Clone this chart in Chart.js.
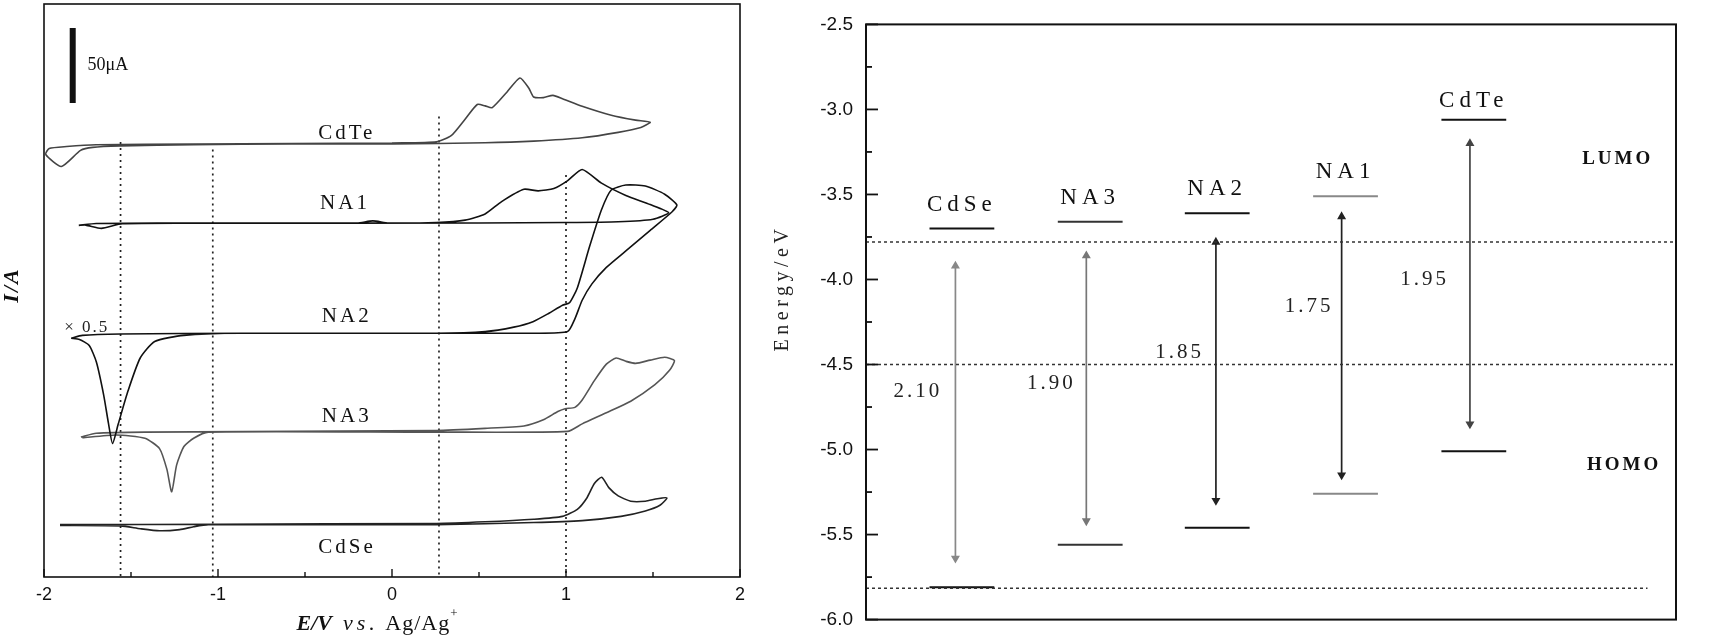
<!DOCTYPE html>
<html>
<head>
<meta charset="utf-8">
<script src="https://cdn.jsdelivr.net/npm/chart.js@4.4.1/dist/chart.umd.min.js"></script>
<style>
  html, body { margin: 0; padding: 0; background: #fff; }
  #wrap { position: relative; width: 1710px; height: 644px; }
  #cv { position: absolute; left: 0; top: 0; }
  #lv { position: absolute; left: 760px; top: 0; }
</style>
</head>
<body>
<div id="wrap">
  <canvas id="cv" width="760" height="644"></canvas>
  <canvas id="lv" width="950" height="644"></canvas>
</div>
<script>
// ---------- left panel: cyclic voltammograms ----------
// potential (V vs Ag/Ag+) and current (uA, relative to each trace's own baseline)
const cdteE = [0.00, 0.255, 0.34, 0.42, 0.49, 0.535, 0.576, 0.66, 0.735, 0.786, 0.814, 0.87, 0.925, 0.98, 1.093, 1.26, 1.40, 1.484, 1.43, 1.30, 1.093, 0.814, 0.535, 0.0, -0.58, -1.14, -1.56, -1.72, -1.79, -1.90, -1.99, -1.97, -1.87, -1.70, -1.14, -0.58, 0.0];
const cdteI = [0.6, 1.4, 5.5, 16.5, 26.3, 25.4, 24.2, 34.5, 44.0, 37.3, 31.3, 30.9, 32.4, 30.2, 25.2, 19.2, 15.9, 14.5, 11.0, 7.7, 4.1, 1.9, 0.8, 0.0, 0.0, -0.5, -1.4, -2.3, -4.3, -15.0, -7.0, -3.0, -1.7, -0.5, 0.0, 0.3, 0.6];

const na1E = [-1.80, -1.70, -1.0, -0.20, -0.11, -0.02, 0.255, 0.42, 0.535, 0.63, 0.758, 0.84, 0.93, 1.01, 1.093, 1.204, 1.344, 1.484, 1.59, 1.50, 1.30, 1.0, 0.5, -1.0, -1.55, -1.67, -1.76, -1.80];
const na1I = [-1.6, -0.3, 0, 0, 1.4, 0, 0.3, 1.9, 6.0, 14.3, 22.5, 21.4, 23.0, 28.3, 35.7, 26.6, 18.4, 12.3, 6.9, 2.5, 0.8, 0.3, 0, -0.2, -0.5, -3.6, -1.4, -1.6];

const na2E = [-1.844, -1.78, -1.56, -0.86, 0.255, 0.535, 0.70, 0.81, 0.90, 0.98, 1.02, 1.065, 1.135, 1.204, 1.26, 1.344, 1.456, 1.567, 1.637, 1.61, 1.484, 1.344, 1.232, 1.149, 1.093, 1.051, 1.009, 0.814, -0.86, -1.196, -1.364, -1.447, -1.517, -1.573, -1.606, -1.629, -1.657, -1.699, -1.74, -1.796, -1.844];
const na2I = [-3.3, -1.4, -0.5, 0, 0, 1.1, 4.1, 7.7, 13.2, 18.7, 20.3, 30.2, 57.6, 82.3, 95.5, 98.8, 98.2, 92.7, 85.6, 81.0, 68.6, 54.9, 43.9, 32.9, 22.0, 9.6, 1.1, 0, 0, -1.4, -5.5, -16.5, -38.4, -60.4, -73.5, -60.4, -41.2, -19.2, -8.2, -4.1, -3.3];

const na3E = [-1.788, -1.70, -1.42, 0.255, 0.535, 0.758, 0.87, 0.953, 0.995, 1.051, 1.093, 1.163, 1.232, 1.288, 1.344, 1.40, 1.484, 1.567, 1.623, 1.595, 1.511, 1.372, 1.232, 1.093, 1.009, 0.255, -1.056, -1.14, -1.196, -1.238, -1.266, -1.294, -1.336, -1.42, -1.587, -1.78];
const na3I = [-3.3, -0.8, 0, 1.1, 2.5, 4.1, 8.2, 13.7, 15.6, 16.5, 21.4, 34.3, 45.3, 49.4, 47.2, 45.8, 48.0, 49.9, 47.7, 41.2, 31.6, 20.6, 12.9, 5.5, 0.5, 0, 0, -4.1, -9.6, -22.0, -39.8, -24.7, -11.0, -4.1, -1.9, -3.8];

const cdseE = [-1.908, -1.0, 0.255, 0.535, 0.814, 0.98, 1.065, 1.12, 1.163, 1.205, 1.246, 1.30, 1.372, 1.456, 1.525, 1.58, 1.54, 1.456, 1.316, 1.093, 0.814, 0.255, -1.056, -1.14, -1.22, -1.336, -1.447, -1.56, -1.908];
const cdseI = [0, 0.3, 0.8, 1.9, 3.6, 5.5, 10.2, 17.8, 27.4, 31.6, 24.7, 19.2, 15.6, 15.6, 17.3, 17.8, 12.9, 9.1, 5.5, 2.7, 1.4, 0, 0, -1.4, -3.3, -4.1, -2.7, -0.8, -0.5];

// vertical stacking offsets of the traces (uA) and their labels
const traceNames = ['CdTe', 'NA1', 'NA2', 'NA3', 'CdSe'];
const traceOffsets = [288.7, 236.0, 162.5, 96.6, 34.9];
const traceColors = ['#444', '#111', '#111', '#555', '#222'];
const labelE = [-0.26, -0.27, -0.26, -0.26, -0.258];
const labelI = [295.5, 248.9, 173.4, 107.0, 19.8];

// dotted guide lines (V) and where they start (uA)
const guideE = [-1.56, -1.03, 0.27, 1.00];
const guideTop = [290, 285, 307, 268];

const xTicksCV = [-2, -1.5, -1, -0.5, 0, 0.5, 1, 1.5, 2];

// ---------- right panel: energy levels ----------
const materials = ['CdSe', 'NA3', 'NA2', 'NA1', 'CdTe'];
const levelX = [0.74, 1.73, 2.71, 3.70, 4.69];
const lumo = [-3.70, -3.66, -3.61, -3.51, -3.06];
const homo = [-5.81, -5.56, -5.46, -5.26, -5.01];
const levelColors = ['#111', '#333', '#111', '#888', '#111'];
const arrowX = [0.69, 1.70, 2.70, 3.67, 4.66];
const arrowTop = [-3.92, -3.86, -3.78, -3.63, -3.20];
const arrowBottom = [-5.64, -5.42, -5.30, -5.15, -4.85];
const arrowColors = ['#888', '#777', '#222', '#222', '#444'];
const gapText = ['2.10', '1.90', '1.85', '1.75', '1.95'];
const gapX = [0.40, 1.43, 2.42, 3.42, 4.31];
const gapY = [-4.66, -4.61, -4.43, -4.16, -4.00];
const nameY = [-3.56, -3.52, -3.47, -3.37, -2.95];
const refLevels = [-3.78, -4.50, -5.815];
const refEnd = [6.25, 6.25, 6.03];

const SERIF = '"Liberation Serif", "Times New Roman", serif';
const SANS = '"Liberation Sans", Arial, sans-serif';

function drawText(ctx, str, x, y, font, color, spacing, align) {
    ctx.save();
    ctx.font = font;
    ctx.fillStyle = color;
    ctx.textAlign = align || 'center';
    ctx.textBaseline = 'middle';
    ctx.letterSpacing = (spacing || 0) + 'px';
    ctx.fillText(str, x, y);
    ctx.restore();
}

// left panel datasets
const cvSeries = [[cdteE, cdteI], [na1E, na1I], [na2E, na2I], [na3E, na3I], [cdseE, cdseI]];
const cvDatasets = cvSeries.map((s, k) => ({
    data: s[0].map((e, i) => ({ x: e, y: traceOffsets[k] + s[1][i] })),
    showLine: true,
    borderColor: traceColors[k],
    borderWidth: 1.6,
    pointRadius: 0,
    tension: 0.2
}));
guideE.forEach((e, i) => {
    cvDatasets.push({
        data: [{ x: e, y: guideTop[i] }, { x: e, y: 0 }],
        showLine: true,
        borderColor: '#222',
        borderWidth: 1.7,
        borderDash: [2, 4],
        pointRadius: 0
    });
});

const cvPlugin = {
    id: 'cvDecor',
    afterDraw(chart) {
        const { ctx, chartArea: a } = chart;
        const xs = chart.scales.x, ys = chart.scales.y;
        ctx.save();
        // frame
        ctx.strokeStyle = '#111';
        ctx.lineWidth = 1.6;
        ctx.strokeRect(a.left, a.top, a.right - a.left, a.bottom - a.top);
        // inward ticks on bottom axis
        ctx.lineWidth = 1.4;
        xTicksCV.forEach(v => {
            const px = xs.getPixelForValue(v);
            const len = Number.isInteger(v) ? 8 : 5;
            ctx.beginPath();
            ctx.moveTo(px, a.bottom);
            ctx.lineTo(px, a.bottom - len);
            ctx.stroke();
        });
        // scale bar
        ctx.fillStyle = '#111';
        const bx = xs.getPixelForValue(-1.835);
        const by1 = ys.getPixelForValue(366), by2 = ys.getPixelForValue(316);
        ctx.fillRect(bx - 3, by1, 6, by2 - by1);
        ctx.restore();

        drawText(ctx, '50μA', xs.getPixelForValue(-1.75), ys.getPixelForValue(341), '18px ' + SERIF, '#111', 0, 'left');
        traceNames.forEach((n, i) => {
            drawText(ctx, n, xs.getPixelForValue(labelE[i]), ys.getPixelForValue(labelI[i]), '21px ' + SERIF, '#111', 3);
        });
        drawText(ctx, '× 0.5', xs.getPixelForValue(-1.754), ys.getPixelForValue(166.6), '17px ' + SERIF, '#222', 2);

        // y title
        ctx.save();
        ctx.translate(12, 285);
        ctx.rotate(-Math.PI / 2);
        drawText(ctx, 'I/A', 0, 0, 'italic bold 22px ' + SERIF, '#111', 2);
        ctx.restore();

        // x title, mixed styles
        const parts = [
            ['E/V', 'italic bold 22px ' + SERIF, 0, 0],
            ['  ', '22px ' + SERIF, 0, 0],
            ['vs.', 'italic 22px ' + SERIF, 4, 0],
            [' Ag/Ag', '22px ' + SERIF, 1, 0],
            ['+', '13px ' + SERIF, 0, -10]
        ];
        ctx.save();
        let total = 0;
        parts.forEach(p => {
            ctx.font = p[1];
            ctx.letterSpacing = p[2] + 'px';
            p.push(ctx.measureText(p[0]).width);
            total += p[4];
        });
        let x = 377 - total / 2;
        ctx.fillStyle = '#111';
        ctx.textBaseline = 'middle';
        ctx.textAlign = 'left';
        parts.forEach(p => {
            ctx.font = p[1];
            ctx.letterSpacing = p[2] + 'px';
            ctx.fillText(p[0], x, 624 + p[3]);
            x += p[4];
        });
        ctx.restore();
    }
};

new Chart(document.getElementById('cv'), {
    type: 'scatter',
    data: { datasets: cvDatasets },
    options: {
        responsive: false,
        animation: false,
        devicePixelRatio: 1,
        layout: { padding: { left: 44, right: 20, top: 4, bottom: 0 } },
        plugins: { legend: { display: false }, tooltip: { enabled: false } },
        scales: {
            x: {
                type: 'linear', min: -2, max: 2,
                afterFit: s => { s.height = 67; },
                grid: { display: false, drawTicks: false },
                border: { display: false },
                ticks: { stepSize: 1, padding: 7, color: '#111', font: { family: SANS, size: 18 } }
            },
            y: { display: false, min: 0, max: 382 }
        }
    },
    plugins: [cvPlugin]
});

// right panel datasets
const lvDatasets = [];
refLevels.forEach((v, i) => {
    lvDatasets.push({
        data: [{ x: 0, y: v }, { x: refEnd[i], y: v }],
        showLine: true, borderColor: '#333', borderWidth: 1.5, borderDash: [3, 3], pointRadius: 0
    });
});
materials.forEach((m, i) => {
    [lumo[i], homo[i]].forEach(v => {
        lvDatasets.push({
            data: [{ x: levelX[i] - 0.25, y: v }, { x: levelX[i] + 0.25, y: v }],
            showLine: true, borderColor: levelColors[i], borderWidth: 2, pointRadius: 0
        });
    });
    lvDatasets.push({
        data: [{ x: arrowX[i], y: arrowBottom[i] }, { x: arrowX[i], y: arrowTop[i] }],
        showLine: true, borderColor: arrowColors[i], borderWidth: 1.7,
        pointStyle: 'triangle', rotation: [180, 0], pointRadius: 3.5,
        pointBackgroundColor: arrowColors[i], pointBorderColor: arrowColors[i]
    });
});

const lvPlugin = {
    id: 'lvDecor',
    afterDraw(chart) {
        const { ctx, chartArea: a } = chart;
        const xs = chart.scales.x, ys = chart.scales.y;
        ctx.save();
        ctx.strokeStyle = '#111';
        ctx.lineWidth = 2;
        ctx.strokeRect(a.left, a.top, a.right - a.left, a.bottom - a.top);
        ctx.lineWidth = 1.8;
        for (let v = -6; v <= -2.5; v += 0.25) {
            const py = ys.getPixelForValue(v);
            const len = Number.isInteger(v * 2) ? 12 : 6;
            ctx.beginPath();
            ctx.moveTo(a.left, py);
            ctx.lineTo(a.left + len, py);
            ctx.stroke();
        }
        ctx.restore();

        materials.forEach((m, i) => {
            drawText(ctx, m, xs.getPixelForValue(levelX[i]), ys.getPixelForValue(nameY[i]), '23px ' + SERIF, '#111', 5);
            drawText(ctx, gapText[i], xs.getPixelForValue(gapX[i]), ys.getPixelForValue(gapY[i]), '21px ' + SERIF, '#222', 3);
        });
        drawText(ctx, 'LUMO', xs.getPixelForValue(5.80), ys.getPixelForValue(-3.29), 'bold 19px ' + SERIF, '#111', 3);
        drawText(ctx, 'HOMO', xs.getPixelForValue(5.85), ys.getPixelForValue(-5.09), 'bold 19px ' + SERIF, '#111', 3);

        ctx.save();
        ctx.translate(23, 288);
        ctx.rotate(-Math.PI / 2);
        drawText(ctx, 'Energy/eV', 0, 0, '20px ' + SERIF, '#222', 4.5);
        ctx.restore();
    }
};

new Chart(document.getElementById('lv'), {
    type: 'scatter',
    data: { datasets: lvDatasets },
    options: {
        responsive: false,
        animation: false,
        devicePixelRatio: 1,
        layout: { padding: { left: 0, right: 34, top: 18, bottom: 20 } },
        plugins: { legend: { display: false }, tooltip: { enabled: false } },
        scales: {
            x: { type: 'linear', display: false, min: 0, max: 6.25 },
            y: {
                type: 'linear', min: -6, max: -2.5,
                afterFit: s => { s.width = 106; },
                grid: { display: false, drawTicks: false },
                border: { display: false },
                ticks: { stepSize: 0.5, padding: 13, color: '#111', font: { family: SANS, size: 19 },
                         callback: v => v.toFixed(1) }
            }
        }
    },
    plugins: [lvPlugin]
});
</script>
</body>
</html>
